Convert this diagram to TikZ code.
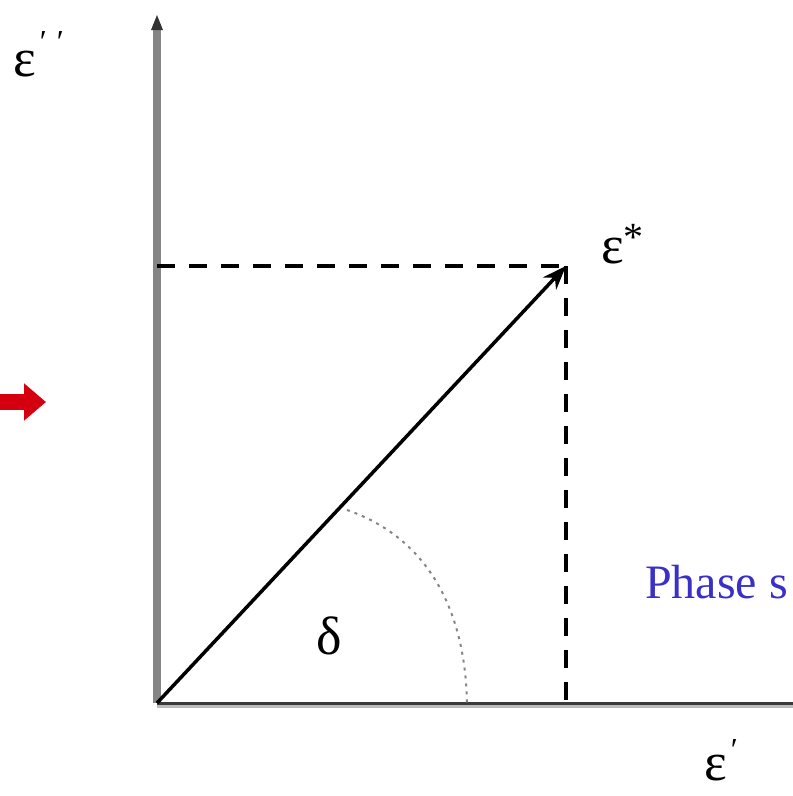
\documentclass[tikz,border=0pt]{standalone}
\usepackage{fontspec}
\setmainfont{Liberation Serif}
\usetikzlibrary{arrows.meta}
\definecolor{axisgray}{HTML}{858585}
\definecolor{axisdark}{HTML}{3A3A3A}
\definecolor{axislight}{HTML}{BBBBBB}
\definecolor{phaseblue}{HTML}{3A30C8}
\definecolor{hintred}{HTML}{D40010}
\begin{document}
\begin{tikzpicture}[x=1pt,y=-1pt,
  lbl/.style={inner sep=0pt, anchor=base west, font=\fontsize{54}{60}\selectfont},
  dashln/.style={line width=3.5pt, dash pattern=on 18pt off 14pt, black},
  vecarrow/.style={line width=3.5pt, black, -{Stealth[length=24pt,width=18pt]}},
  anglearc/.style={axisgray, line width=2pt, dash pattern=on 3pt off 5pt}
]
\useasboundingbox (0,0) rectangle (793,796);
\coordinate (O) at (157,703);
\coordinate (P) at (566,266);
\coordinate (Xend) at (793,703);
\coordinate (Yp) at (157,266);
\coordinate (Xp) at (566,703);
\coordinate (A1) at (347,510);
\coordinate (A2) at (467,703);
\coordinate (R1) at (-5,402);
\coordinate (R2) at (46,402);
% axes
\draw[axisgray, line width=8pt] (O) -- (157,24);
\fill[black!80] (151,30) -- (157,15) -- (163,30) -- cycle;
\draw[axislight, line width=3pt] (157,706) -- (793,706);
\draw[axisdark, line width=3pt] (O) -- (Xend);
% dashed projections
\draw[dashln] (Yp) -- (P);
\draw[dashln] (P) -- (Xp);
% vector
\draw[vecarrow] (O) -- (P);
% angle arc
\draw[anglearc] (A1) .. controls (420,535) and (465,600) .. (A2);
% red arrow
\draw[hintred, line width=16pt, -{Triangle[length=22pt,width=36pt]}] (R1) -- (R2);
% labels
\node[lbl] (eps2) at (13,76) {ε\raisebox{24pt}{\fontsize{32}{32}\selectfont\hspace{4pt}′\hspace{10pt}′}};
\node[lbl] (epsstar) at (601,263) {ε\raisebox{13pt}{\fontsize{40}{40}\selectfont *}};
\node[lbl] (eps1) at (704,780) {ε\raisebox{20pt}{\fontsize{32}{32}\selectfont\hspace{4pt}′}};
\node[lbl] (delta) at (316,654) {δ};
\node[lbl, text=phaseblue, font=\fontsize{48}{56}\selectfont] (phase) at (645,598) {Phase s};
\end{tikzpicture}
\end{document}
